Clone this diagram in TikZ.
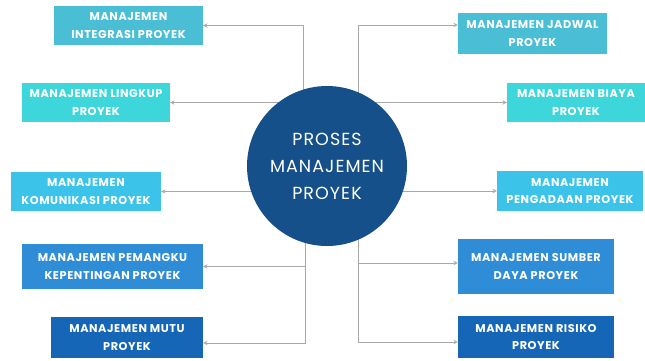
\documentclass[tikz,border=0pt]{standalone}
\usepackage{fontspec}
\setmainfont{Poppins}
\newfontfamily\boxfont[LetterSpace=5]{Poppins}
\newfontfamily\hubfont[LetterSpace=6]{Poppins}
\usepackage{tikz}
\usetikzlibrary{shapes.geometric, arrows, backgrounds}
\definecolor{tealbox}{HTML}{4ABED4}
\definecolor{turqbox}{HTML}{3DD6DA}
\definecolor{skybox}{HTML}{3CC3EA}
\definecolor{midbox}{HTML}{2E8DD6}
\definecolor{darkbox}{HTML}{1566B7}
\definecolor{core}{HTML}{15508A}
\definecolor{wire}{HTML}{A9A9A9}
\tikzstyle{area} = [rectangle, inner sep=0pt, text=white, align=center, font=\boxfont\bfseries\fontsize{11.3}{17.5}\selectfont]
\tikzstyle{hub} = [circle, minimum size=160pt, inner sep=0pt, fill=core, text=white, align=center, font=\hubfont\fontsize{17.5}{27}\selectfont]
\tikzstyle{arrow} = [draw=wire, line width=0.9pt, ->, >=stealth]

\begin{document}
\begin{tikzpicture}[x=1pt, y=-1pt]
\useasboundingbox (0,0) rectangle (645,360);
\node (proses) [hub] at (327,166) {PROSES\\MANAJEMEN\\PROYEK};

\node (integrasi) [area, fill=tealbox, minimum width=149pt, minimum height=39pt] at (128.5,25.5) {MANAJEMEN\\INTEGRASI PROYEK};
\node (lingkup) [area, fill=turqbox, minimum width=148pt, minimum height=39pt] at (96,102.5) {MANAJEMEN LINGKUP\\PROYEK};
\node (komunikasi) [area, fill=skybox, minimum width=150pt, minimum height=39pt] at (86,191.5) {MANAJEMEN\\KOMUNIKASI PROYEK};
\node (pemangku) [area, fill=midbox, minimum width=181pt, minimum height=45pt] at (112.5,266.5) {MANAJEMEN PEMANGKU\\KEPENTINGAN PROYEK};
\node (mutu) [area, fill=darkbox, minimum width=152pt, minimum height=41pt] at (127,337.5) {MANAJEMEN MUTU\\PROYEK};

\node (jadwal) [area, fill=tealbox, minimum width=149pt, minimum height=41pt] at (532.5,33.5) {MANAJEMEN JADWAL\\PROYEK};
\node (biaya) [area, fill=turqbox, minimum width=138pt, minimum height=39pt] at (576,102.5) {MANAJEMEN BIAYA\\PROYEK};
\node (pengadaan) [area, fill=skybox, minimum width=146pt, minimum height=40pt] at (570,191) {MANAJEMEN\\PENGADAAN PROYEK};
\node (sumber) [area, fill=midbox, minimum width=156pt, minimum height=55pt] at (536,266.5) {MANAJEMEN SUMBER\\DAYA PROYEK};
\node (risiko) [area, fill=darkbox, minimum width=156pt, minimum height=42pt] at (536,337) {MANAJEMEN RISIKO\\PROYEK};

\begin{scope}[on background layer]
\draw [arrow] ([xshift=-24pt]proses.center) |- (integrasi.east);
\draw [arrow] (proses.center |- lingkup.east) -- (lingkup.east);
\draw [arrow] (proses.center |- komunikasi.east) -- (komunikasi.east);
\draw [arrow] ([xshift=-22pt]proses.center |- pemangku.east) -- (pemangku.east);
\draw [arrow] ([xshift=-22pt]proses.center) |- ([yshift=-5.5pt]mutu.east);
\draw [arrow] ([xshift=31pt]proses.center) |- ([yshift=8.5pt]jadwal.west);
\draw [arrow] (proses.center |- biaya.west) -- (biaya.west);
\draw [arrow] (proses.center |- pengadaan.west) -- (pengadaan.west);
\draw [arrow] ([xshift=31pt,yshift=3.5pt]proses.center |- sumber.west) -- ([yshift=3.5pt]sumber.west);
\draw [arrow] ([xshift=31pt]proses.center) |- ([yshift=-5pt]risiko.west);
\end{scope}
\end{tikzpicture}
\end{document}
